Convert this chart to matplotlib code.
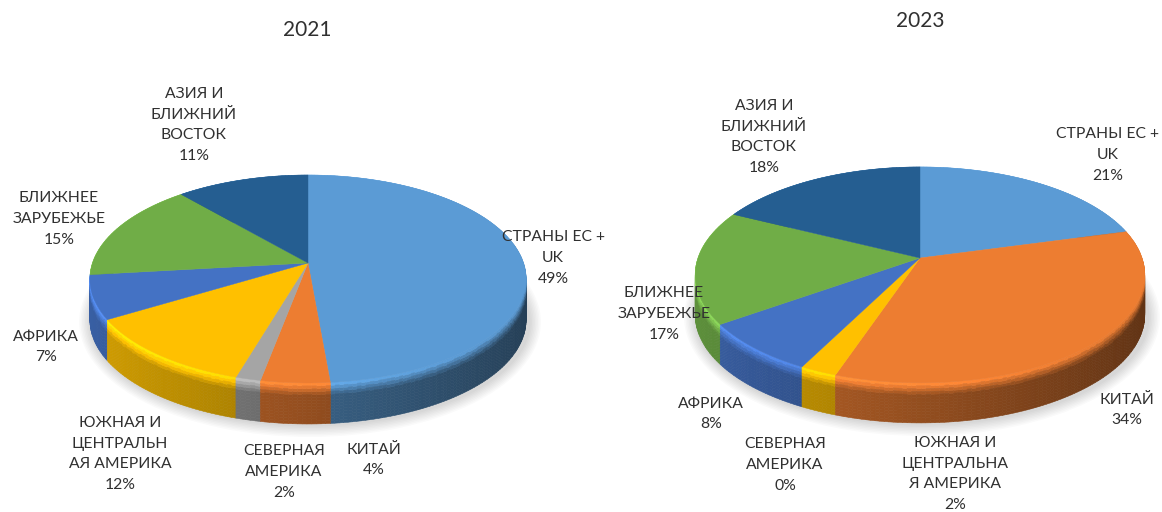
# -*- coding: utf-8 -*-

import matplotlib
matplotlib.use('Agg')
import matplotlib.pyplot as plt
import numpy as np
from matplotlib.collections import PolyCollection
from matplotlib.patches import Ellipse

plt.rcParams['font.family'] = ['Lato', 'Open Sans', 'DejaVu Sans']

colors = ['#5b9bd5', '#ed7d31', '#a5a5a5', '#ffc000', '#4472c4', '#70ad47', '#255e91']

values_2021 = [48.6, 4.4, 1.6, 11.8, 6.8, 15.4, 11.4]
values_2023 = [20.8, 34.4, 0.0, 2.3, 7.7, 17.0, 17.7]

names_2021 = ['СТРАНЫ ЕС +\nUK', 'КИТАЙ', 'СЕВЕРНАЯ\nАМЕРИКА', 'ЮЖНАЯ И\nЦЕНТРАЛЬН\nАЯ АМЕРИКА',
              'АФРИКА', 'БЛИЖНЕЕ\nЗАРУБЕЖЬЕ', 'АЗИЯ И\nБЛИЖНИЙ\nВОСТОК']
names_2023 = ['СТРАНЫ ЕС +\nUK', 'КИТАЙ', 'СЕВЕРНАЯ\nАМЕРИКА', 'ЮЖНАЯ И\nЦЕНТРАЛЬНА\nЯ АМЕРИКА',
              'АФРИКА', 'БЛИЖНЕЕ\nЗАРУБЕЖЬЕ', 'АЗИЯ И\nБЛИЖНИЙ\nВОСТОК']

label_pos_2021 = [(553, 258), (374, 460), (284, 472), (120, 454), (46, 347), (59, 219), (194, 125)]
label_pos_2023 = [(1108, 155), (1127, 410), (785, 465), (955, 474), (711, 414), (664, 314), (764, 137)]


def project(theta, geom):
    # circle -> screen with a bit of perspective, theta clockwise from north
    x, y = np.sin(theta), np.cos(theta)
    w = 1 + geom['k'] * y
    return geom['cx'] + geom['rx'] * x / w, geom['cy'] - geom['ry'] * y / w


def draw_pie(ax, values, names, label_pos, geom):
    total = sum(values)
    edges = np.cumsum([0] + values) / total * 2 * np.pi

    # soft shadow
    for i in range(8):
        ax.add_patch(Ellipse((geom['cx'] + 2, geom['ey'] + geom['depth'] + 2),
                             2 * geom['ex'] + 26 - 3 * i, 2 * geom['ey_r'] + 22 - 3 * i,
                             color='#000000', alpha=0.018, lw=0, zorder=1))

    # side wall, back to front
    polys, fills, order = [], [], []
    n_layers = 14
    for j in range(len(values)):
        if values[j] == 0:
            continue
        base = np.array(matplotlib.colors.to_rgb(colors[j]))
        steps = max(int((edges[j + 1] - edges[j]) / np.radians(1.0)), 2)
        ts = np.linspace(edges[j], edges[j + 1], steps + 1)
        for a, b in zip(ts[:-1], ts[1:]):
            xa, ya = project(a, geom)
            xb, yb = project(b, geom)
            xn = np.sin((a + b) / 2)
            side = 0.62 - 0.22 * xn
            top = 1.17 - 0.16 * xn
            for l in range(n_layers):
                t0, t1 = l / n_layers, (l + 1) / n_layers
                tm = (t0 + t1) / 2
                f = side + (top - side) * max(0, 1 - tm / 0.3)
                d0, d1 = t0 * geom['depth'], t1 * geom['depth']
                polys.append([(xa, ya + d0), (xb, yb + d0), (xb, yb + d1), (xa, ya + d1)])
                fills.append(np.clip(base * f, 0, 1))
                order.append((ya + yb) / 2)
    idx = np.argsort(order)
    ax.add_collection(PolyCollection([polys[i] for i in idx], facecolors=[fills[i] for i in idx],
                                     edgecolors=[fills[i] for i in idx], linewidths=0.4, zorder=2))

    # top surface
    for j in range(len(values)):
        if values[j] == 0:
            continue
        ts = np.linspace(edges[j], edges[j + 1], 200)
        xs, ys = project(ts, geom)
        xs = np.r_[geom['cx'], xs]
        ys = np.r_[geom['cy'], ys]
        ax.fill(xs, ys, color=colors[j], lw=0.3, zorder=3)

    for v, name, pos in zip(values, names, label_pos):
        ax.text(pos[0], pos[1], name + '\n%.0f%%' % v, ha='center', va='center', fontsize=11.3,
                color='#303030', linespacing=1.62, zorder=5)


fig = plt.figure(figsize=(11.62, 5.12), dpi=100, facecolor='w')
ax = fig.add_axes([0, 0, 1, 1])
ax.set_xlim(0, 1162)
ax.set_ylim(512, 0)
ax.axis('off')

geom_2021 = {'cx': 308, 'cy': 263, 'rx': 215.5, 'ry': 101.5, 'k': 0.154, 'depth': 41,
             'ex': 218, 'ey': 279, 'ey_r': 104}
geom_2023 = {'cx': 920, 'cy': 258, 'rx': 222, 'ry': 105.3, 'k': 0.157, 'depth': 40,
             'ex': 225, 'ey': 275, 'ey_r': 108}

draw_pie(ax, values_2021, names_2021, label_pos_2021, geom_2021)
draw_pie(ax, values_2023, names_2023, label_pos_2023, geom_2023)

ax.text(307, 30, '2021', ha='center', va='center', fontsize=15, color='#303030')
ax.text(920, 21, '2023', ha='center', va='center', fontsize=15, color='#303030')

fig.savefig('out.png', dpi=100)
